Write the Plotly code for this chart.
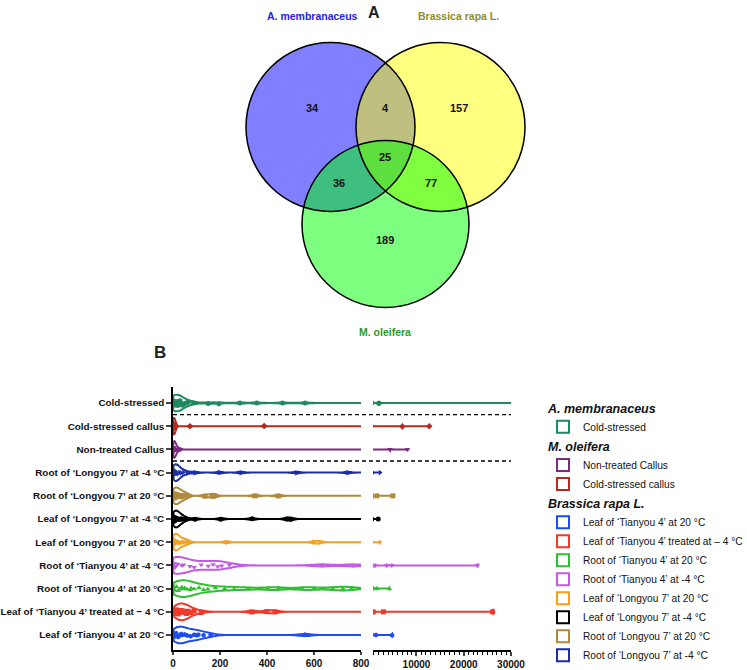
import plotly.graph_objects as go

# ---------------- DATA ----------------
# Panel A: Venn diagram
venn_set_names = ["A. membranaceus", "Brassica rapa L.", "M. oleifera"]
venn_region_names = ["A only", "A∩B", "B only", "A∩B∩M", "A∩M", "B∩M", "M only"]
venn_counts = [34, 4, 157, 25, 36, 77, 189]

# Panel B: violin data (rows listed top -> bottom)
row_labels = [
    "Cold-stressed",
    "Cold-stressed callus",
    "Non-treated Callus",
    "Root of ‘Longyou 7’ at -4 °C",
    "Root of ‘Longyou 7’ at 20 °C",
    "Leaf of ‘Longyou 7’ at -4 °C",
    "Leaf of ‘Longyou 7’ at 20 °C",
    "Root of ‘Tianyou 4’ at -4 °C",
    "Root of ‘Tianyou 4’ at 20 °C",
    "Leaf of ‘Tianyou 4’ treated at − 4 °C",
    "Leaf of ‘Tianyou 4’ at 20 °C",
]
legend_labels = [
    "Cold-stressed",
    "Cold-stressed callus",
    "Non-treated Callus",
    "Root of ‘Longyou 7’ at -4 °C",
    "Root of ‘Longyou 7’ at 20 °C",
    "Leaf of ‘Longyou 7’ at -4 °C",
    "Leaf of ‘Longyou 7’ at 20 °C",
    "Root of ‘Tianyou 4’ at -4 °C",
    "Root of ‘Tianyou 4’ at 20 °C",
    "Leaf of ‘Tianyou 4’ treated at – 4 °C",
    "Leaf of ‘Tianyou 4’ at 20 °C",
]
species = [
    "A. membranaceus",
    "M. oleifera", "M. oleifera",
    "Brassica rapa L.", "Brassica rapa L.", "Brassica rapa L.", "Brassica rapa L.",
    "Brassica rapa L.", "Brassica rapa L.", "Brassica rapa L.", "Brassica rapa L.",
]
legend_order = [1, 3, 2, 11, 10, 9, 8, 7, 6, 5, 4]

cold_stressed = [1, 2, 3, 4, 5, 6, 7, 8, 10, 12, 14, 16, 18, 20, 25, 30, 35, 40,
                 48, 55, 65, 87, 150, 195, 285, 356, 466, 562, 2000, 2100, 31000]
cold_stressed_callus = [0.5, 1, 1.5, 2, 3, 4, 5, 6, 8, 10, 12, 72, 388, 7000, 12700]
non_treated_callus = [1, 2, 3, 4, 5, 6, 8, 10, 12, 15, 20, 30, 4400, 8100]
root_longyou7_m4 = [2, 4, 5, 6, 8, 10, 12, 15, 18, 22, 28, 35, 45, 60, 94, 197,
                    289, 526, 743, 2300]
root_longyou7_20 = [2, 4, 6, 8, 10, 14, 18, 22, 28, 35, 42, 50, 60, 136, 165, 176,
                    349, 448, 1600, 5000]
leaf_longyou7_m4 = [2, 3, 5, 7, 9, 12, 15, 18, 22, 28, 35, 42, 55, 94, 203, 337,
                    484, 502, 1900]
leaf_longyou7_20 = [2, 4, 6, 8, 10, 13, 16, 20, 25, 30, 38, 45, 55, 65, 228, 600,
                    625, 2280]
root_tianyou4_m4 = [1, 3, 5, 8, 12, 20, 37, 45, 72, 90, 120, 150, 171, 190, 207,
                    240, 633, 766, 1220, 3700, 4750, 22900]
root_tianyou4_20 = [3, 8, 15, 22, 30, 38, 43, 50, 60, 72, 77, 90, 110, 130, 148,
                    180, 220, 260, 320, 404, 450, 548, 600, 680, 723, 760, 870,
                    1580, 4250]
leaf_tianyou4_m4 = [5, 10, 15, 22, 28, 35, 40, 45, 51, 58, 65, 75, 90, 120, 335,
                    399, 434, 870, 3000, 26100]
leaf_tianyou4_20 = [3, 8, 14, 22, 28, 35, 39, 50, 60, 75, 90, 101, 108, 130, 160,
                    562, 1430, 4830]

row_values = [cold_stressed, cold_stressed_callus, non_treated_callus,
              root_longyou7_m4, root_longyou7_20, leaf_longyou7_m4,
              leaf_longyou7_20, root_tianyou4_m4, root_tianyou4_20,
              leaf_tianyou4_m4, leaf_tianyou4_20]

left_ticks = [0, 200, 400, 600, 800]
right_ticks = [10000, 20000, 30000]

# ---------------- STYLE ----------------
FONT = "Liberation Sans, Arial, Helvetica, sans-serif"
W, H = 747, 670
row_colors = ["#1f8a5e", "#b8291f", "#7b2a7e", "#1c2ea3", "#b08a3c", "#000000",
              "#f5a021", "#c25ae8", "#2fc02f", "#f0392a", "#1f4cf0"]
row_symbols = ["circle", "diamond", "triangle-down", "triangle-right", "square",
               "circle", "triangle-right", "triangle-down", "triangle-up",
               "square", "hexagon"]
row_bandwidth = [24, 5, 5, 14, 14, 14, 12, 40, 35, 20, 25]

def px_x(p):
    return p / W

def px_y(p):
    return 1 - p / H

fig = go.Figure()

n = len(row_labels)
for i in range(n):
    pos = n - 1 - i
    vals = row_values[i]
    for k, (xa, ya) in enumerate([("x", "y"), ("x2", "y2")]):
        fig.add_trace(go.Violin(
            x=vals, y=[pos] * len(vals), orientation="h",
            xaxis=xa, yaxis=ya,
            name=legend_labels[i],
            legendgroup=species[i],
            legendgrouptitle=dict(text=species[i],
                                  font=dict(size=12.5, family=FONT, color="#111",
                                            weight="bold", style="italic")),
            legendrank=legend_order[i],
            showlegend=(k == 0),
            line=dict(color=row_colors[i], width=2),
            fillcolor="rgba(255,255,255,0)",
            points="all", pointpos=0, jitter=0.3,
            marker=dict(color=row_colors[i], size=5, symbol=row_symbols[i]),
            spanmode="hard", width=0.72, scalemode="width",
            bandwidth=row_bandwidth[i],
            hoveron="points",
        ))

yr = [-0.647, 10.69]
ydom = [px_y(650), px_y(387)]
axis_font = dict(family=FONT, size=10, color="#111", weight="bold")
ylab_font = dict(family=FONT, size=9.9, color="#111", weight="bold")

fig.update_layout(
    width=W, height=H, autosize=False,
    margin=dict(l=0, r=0, t=0, b=0, autoexpand=False),
    paper_bgcolor="white", plot_bgcolor="rgba(0,0,0,0)",
    violinmode="overlay",
    font=dict(family=FONT, size=11, color="#111"),
    xaxis=dict(domain=[px_x(173), px_x(361)], range=[0, 800], anchor="y",
               tickvals=left_ticks, ticks="outside", ticklen=3, tickwidth=1.5,
               showline=True, linecolor="black", linewidth=1.5,
               showgrid=False, zeroline=False, tickfont=axis_font),
    yaxis=dict(domain=ydom, range=yr, anchor="x", type="linear",
               tickvals=list(range(n - 1, -1, -1)), ticktext=row_labels,
               ticks="outside", ticklen=5, tickwidth=1.5,
               showline=True, linecolor="black", linewidth=1.5,
               showgrid=False, zeroline=False, tickfont=ylab_font),
    xaxis2=dict(domain=[px_x(373), px_x(511)], range=[800, 30000], anchor="y2",
                tickvals=right_ticks, ticktext=[str(t) for t in right_ticks],
                ticks="outside", ticklen=4, tickwidth=1.5,
                minor=dict(dtick=1000, tick0=0, ticks="outside", ticklen=3,
                           tickwidth=1, tickcolor="black"),
                showline=True, linecolor="black", linewidth=1.5,
                showgrid=False, zeroline=False, tickfont=axis_font),
    yaxis2=dict(domain=ydom, range=yr, anchor="x2", type="linear",
                visible=False),
    xaxis3=dict(domain=[0, 1], range=[0, W], visible=False, anchor="y3",
                fixedrange=True),
    yaxis3=dict(domain=[0, 1], range=[H, 0], visible=False, anchor="x3",
                fixedrange=True),
    legend=dict(x=px_x(543), y=px_y(393), xanchor="left", yanchor="top",
                traceorder="grouped", tracegroupgap=0, itemwidth=30,
                bgcolor="rgba(0,0,0,0)", borderwidth=0,
                font=dict(size=10.2, family=FONT, color="#111")),
    showlegend=True,
)

# Invisible anchor trace to create x3/y3 axes (Venn canvas)
fig.add_trace(go.Scatter(x=[0], y=[0], xaxis="x3", yaxis="y3", mode="markers",
                         marker=dict(opacity=0), showlegend=False,
                         hoverinfo="skip"))

# Separators between species
for ysep in [n - 1.5, n - 3.5]:
    fig.add_shape(type="line", xref="paper", yref="y",
                  x0=px_x(173), x1=px_x(511), y0=ysep, y1=ysep,
                  line=dict(color="black", width=1.3, dash="4px,3px"))

# ---------------- VENN ----------------
circles = [  # (cx, cy, r, fill)
    (330.5, 127, 84.5, "rgba(0,0,255,0.5)"),
    (440.5, 127, 84.5, "rgba(255,255,0,0.5)"),
    (385.5, 224, 83.5, "rgba(0,255,0,0.5)"),
]
for cx, cy, r, fc in circles:
    fig.add_shape(type="circle", xref="x3", yref="y3",
                  x0=cx - r, x1=cx + r, y0=cy - r, y1=cy + r,
                  fillcolor=fc, line=dict(width=0), layer="above")
for cx, cy, r, fc in circles:
    fig.add_shape(type="circle", xref="x3", yref="y3",
                  x0=cx - r, x1=cx + r, y0=cy - r, y1=cy + r,
                  fillcolor="rgba(0,0,0,0)", line=dict(color="black", width=1.5),
                  layer="above")

region_pos = [(312, 108), (385, 108), (459, 108), (385, 157), (339, 183),
              (431, 183), (385, 240)]
for (xp, yp), cnt in zip(region_pos, venn_counts):
    fig.add_annotation(x=xp, y=yp, xref="x3", yref="y3", text=str(cnt),
                       showarrow=False,
                       font=dict(size=11, family=FONT, color="#111",
                                 weight="bold"))

set_label_pos = [(312, 16), (458, 16), (385, 332)]
set_label_colors = ["#2424e6", "#8e8e2c", "#2b9a2b"]
for (xp, yp), nm, c in zip(set_label_pos, venn_set_names, set_label_colors):
    fig.add_annotation(x=xp, y=yp, xref="x3", yref="y3", text=nm,
                       showarrow=False,
                       font=dict(size=10.5, family=FONT, color=c, weight="bold"))

# Panel letters
fig.add_annotation(x=374, y=12, xref="x3", yref="y3", text="A", showarrow=False,
                   font=dict(size=16, family=FONT, color="#222", weight="bold"))
fig.add_annotation(x=160, y=352, xref="x3", yref="y3", text="B", showarrow=False,
                   font=dict(size=17, family=FONT, color="#222", weight="bold"))

fig.write_html("out.html", config={"displayModeBar": False},
               post_script="document.body.style.margin='0';")
